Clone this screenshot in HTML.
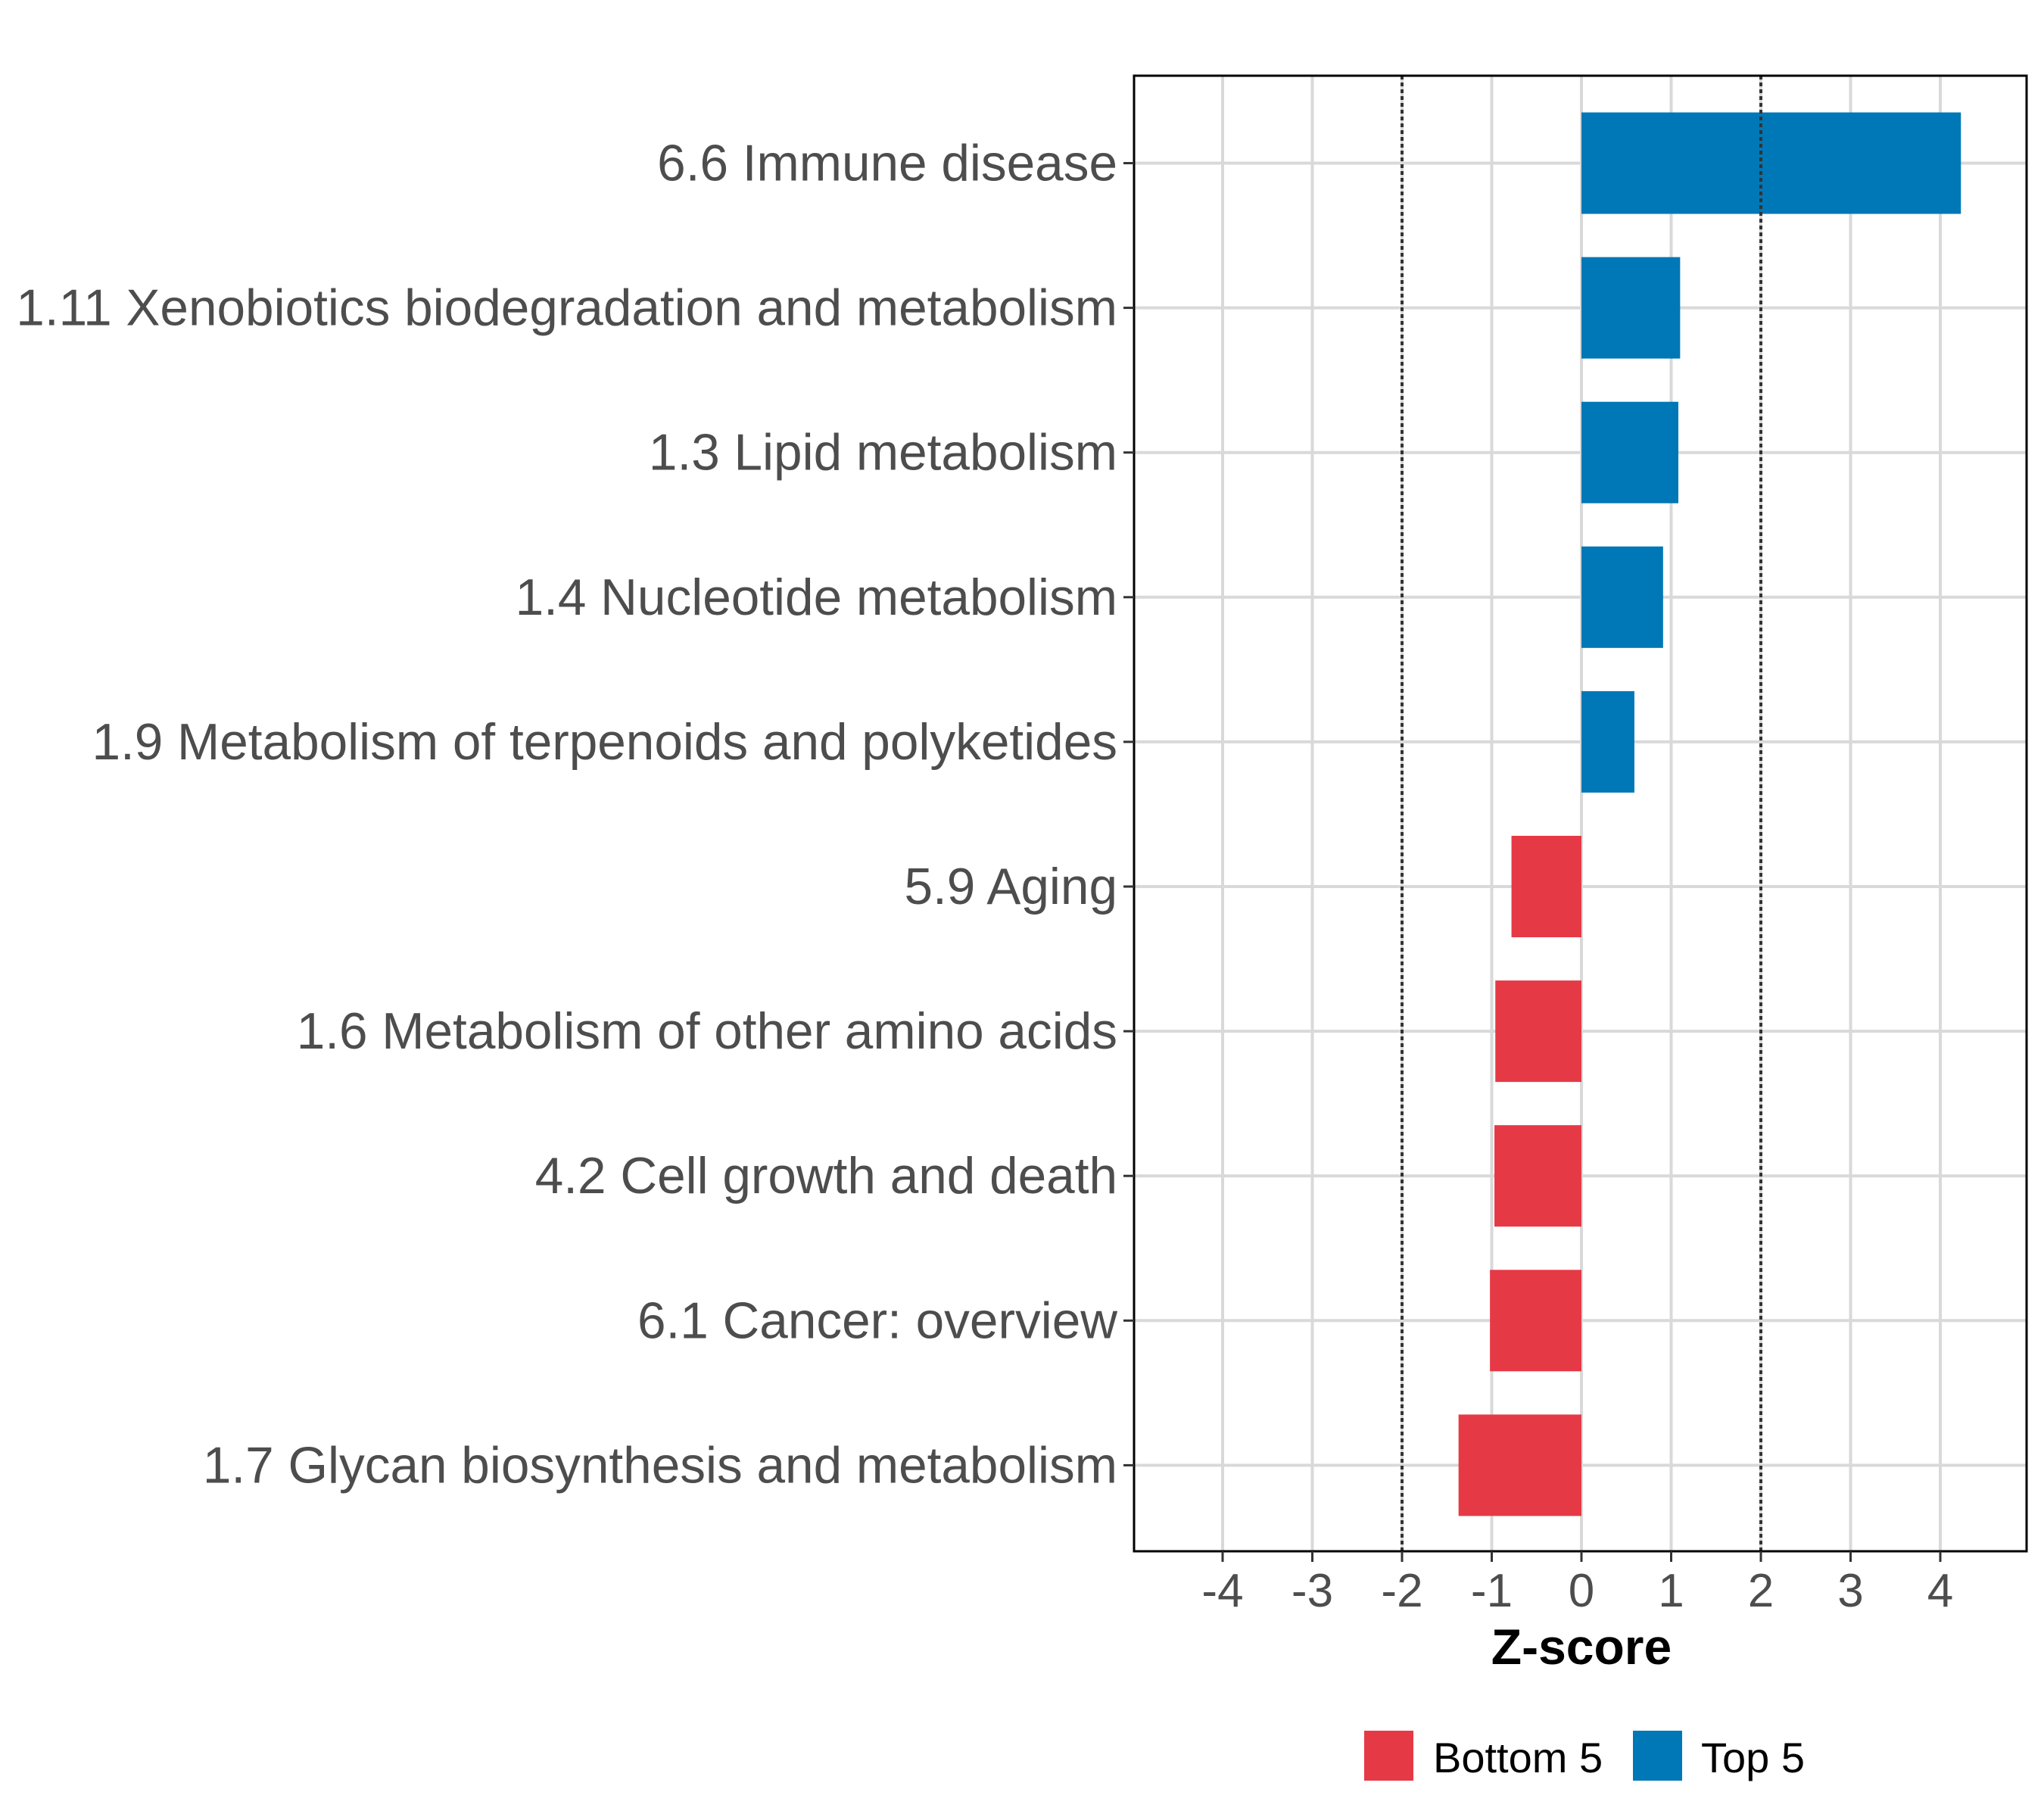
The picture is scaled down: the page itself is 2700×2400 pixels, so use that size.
<!DOCTYPE html>
<html><head><meta charset="utf-8"><style>
html,body{margin:0;padding:0;background:#fff;}
svg{display:block;font-family:"Liberation Sans",Arial,sans-serif;}
</style></head><body>
<svg id="chart" width="2700" height="2400" viewBox="0 0 2700 2400">
<rect width="2700" height="2400" fill="#fff"/>
<g id="grid"></g>
<g id="bars"></g>
<g id="refs"></g>
<rect x="1498" y="100" width="1179" height="1949" fill="none" stroke="#000" stroke-width="3"/>
<g id="yaxis"></g>
<g id="xaxis"></g>
<text x="2089" y="2198" text-anchor="middle" font-size="66" font-weight="bold" fill="#000">Z-score</text>
<g>
<rect x="1802" y="2286" width="65" height="66" fill="#E63946"/>
<text x="1893" y="2341" font-size="56" fill="#000">Bottom 5</text>
<rect x="2157" y="2286" width="65" height="66" fill="#0077B6"/>
<text x="2247" y="2341" font-size="56" fill="#000">Top 5</text>
</g>
</svg>
<script>
const categories = ["6.6 Immune disease","1.11 Xenobiotics biodegradation and metabolism","1.3 Lipid metabolism","1.4 Nucleotide metabolism","1.9 Metabolism of terpenoids and polyketides","5.9 Aging","1.6 Metabolism of other amino acids","4.2 Cell growth and death","6.1 Cancer: overview","1.7 Glycan biosynthesis and metabolism"];
const values = [4.23, 1.1, 1.08, 0.91, 0.59, -0.78, -0.96, -0.97, -1.02, -1.37];
const groups = ["Top 5","Top 5","Top 5","Top 5","Top 5","Bottom 5","Bottom 5","Bottom 5","Bottom 5","Bottom 5"];
const xTicks = [-4,-3,-2,-1,0,1,2,3,4];
const refLines = [-2, 2];

const NS="http://www.w3.org/2000/svg";
const PL=1498, PR=2677, PT=100, PB=2049;
const x0=2089, unit=118.5;
function xs(v){return x0+v*unit;}
const rowTop=215.5, rowStep=191.1;
function ys(i){return rowTop+i*rowStep;}
const barH=134;
function mk(tag,attrs,parent){const e=document.createElementNS(NS,tag);for(const k in attrs)e.setAttribute(k,attrs[k]);parent.appendChild(e);return e;}
const grid=document.getElementById('grid'), bars=document.getElementById('bars'), refs=document.getElementById('refs'), ya=document.getElementById('yaxis'), xa=document.getElementById('xaxis');

xTicks.forEach(t=>{
  const l=mk('line',{x1:xs(t),x2:xs(t),y1:PT,y2:PB,stroke:'#d9d9d9','stroke-width':4},grid);
  
  
  const tk=mk('line',{x1:xs(t),x2:xs(t),y1:PB,y2:PB+14,stroke:'#333','stroke-width':3},xa);
  
  
  const tx=mk('text',{x:xs(t),y:2122,'text-anchor':'middle','font-size':62,fill:'#4d4d4d'},xa);
  tx.textContent=String(t);
  
  
});
categories.forEach((c,i)=>{
  const y=ys(i);
  const l=mk('line',{x1:PL,x2:PR,y1:y,y2:y,stroke:'#d9d9d9','stroke-width':4},grid);
  
  
  const v=values[i];
  const b=mk('rect',{x:Math.min(xs(0),xs(v)),y:y-barH/2,width:Math.abs(xs(v)-xs(0)),height:barH,fill:groups[i]==='Top 5'?'#0077B6':'#E63946'},bars);
  
  
  const tk=mk('line',{x1:PL-14,x2:PL,y1:y,y2:y,stroke:'#333','stroke-width':3},ya);
  
  
  const tx=mk('text',{x:PL-22,y:y+23,'text-anchor':'end','font-size':67.5,fill:'#4d4d4d'},ya);
  tx.textContent=c;
  
  
});
refLines.forEach(r=>{
  const l=mk('line',{x1:xs(r),x2:xs(r),y1:PT,y2:PB,stroke:'#333','stroke-width':4,'stroke-dasharray':'5 4'},refs);
  
  
});
</script>
</body></html>
